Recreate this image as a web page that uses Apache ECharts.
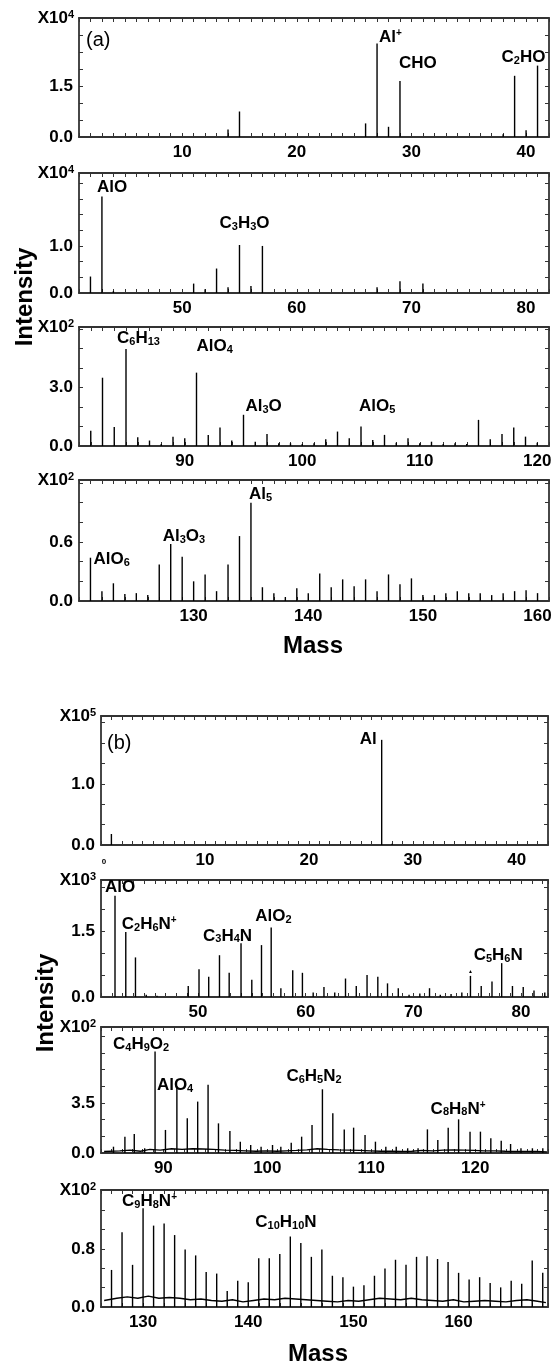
<!DOCTYPE html>
<html>
<head>
<meta charset="utf-8">
<script src="https://cdn.jsdelivr.net/npm/echarts@6/dist/echarts.min.js"></script>
<style>
  html, body { margin: 0; padding: 0; background: #fff; }
  #chart { width: 558px; height: 1366px; }
</style>
</head>
<body>
<div id="chart"></div>
<script>
// ---------- data ----------
// (a) spectrum
const massA1 = [14, 15, 26, 27, 28, 29, 38, 39, 40, 41];
const intA1 = [0.22, 0.75, 0.4, 2.75, 0.3, 1.65, 0.08, 1.8, 0.2, 2.1];      // x10^4
const annA1 = [[27, 'Al{sup|+}'], [29, 'CHO'], [41, 'C{sub|2}HO']];

const massA2 = [42, 43, 44, 51, 52, 53, 54, 55, 56, 57, 67, 69, 71];
const intA2 = [0.35, 2.05, 0.04, 0.2, 0.08, 0.52, 0.12, 1.02, 0.15, 1.0, 0.12, 0.25, 0.2]; // x10^4
const annA2 = [[43, 'AlO'], [55, 'C{sub|3}H{sub|3}O']];

const massA3 = [82, 83, 84, 85, 86, 87, 88, 89, 90, 91, 92, 93, 94, 95, 96, 97, 98, 99, 100, 101,
  102, 103, 104, 105, 106, 107, 108, 109, 110, 111, 112, 113, 114, 115, 116, 117, 118, 119, 120];
const intA3 = [0.78, 3.5, 0.97, 4.97, 0.45, 0.28, 0.1, 0.48, 0.4, 3.76, 0.57, 0.95, 0.28, 1.6, 0.22, 0.62, 0.14, 0.14, 0.1, 0.14,
  0.34, 0.74, 0.4, 1.0, 0.31, 0.57, 0.17, 0.4, 0.14, 0.22, 0.1, 0.14, 0.1, 1.34, 0.34, 0.62, 0.95, 0.48, 0.17]; // x10^2
const annA3 = [[85, 'C{sub|6}H{sub|13}'], [91, 'AlO{sub|4}'], [95, 'Al{sub|3}O'], [105, 'AlO{sub|5}']];

const massA4 = [121, 122, 123, 124, 125, 126, 127, 128, 129, 130, 131, 132, 133, 134, 135, 136, 137, 138, 139, 140,
  141, 142, 143, 144, 145, 146, 147, 148, 149, 150, 151, 152, 153, 154, 155, 156, 157, 158, 159, 160];
const intA4 = [0.44, 0.1, 0.18, 0.07, 0.08, 0.06, 0.37, 0.58, 0.45, 0.2, 0.27, 0.1, 0.37, 0.66, 1.0, 0.14, 0.08, 0.04, 0.13, 0.08,
  0.28, 0.14, 0.22, 0.15, 0.22, 0.1, 0.27, 0.17, 0.23, 0.06, 0.06, 0.08, 0.1, 0.08, 0.08, 0.06, 0.08, 0.1, 0.11, 0.08]; // x10^2
const annA4 = [[121, 'AlO{sub|6}'], [128, 'Al{sub|3}O{sub|3}'], [135, 'Al{sub|5}']];

// (b) spectrum
const massB1 = [1, 27, 28];
const intB1 = [0.18, 1.72, 0.02]; // x10^5
const annB1 = [[27, 'Al']];

const massB2 = [42.3, 43.3, 44.2, 45.2, 46.2, 49.1, 50.1, 51.0, 52.0, 52.9, 54.0, 55.0, 55.9, 56.8, 57.7, 58.8, 59.7, 60.7,
  61.7, 62.7, 63.7, 64.7, 65.7, 66.7, 67.6, 68.6, 69.6, 70.6, 71.5, 72.5, 73.5, 74.5, 75.3, 76.3, 77.3, 78.2, 79.2, 80.2, 81.2, 82.2];
const intB2 = [2.3, 1.48, 0.9, 0.05, 0.03, 0.25, 0.63, 0.46, 0.95, 0.55, 1.22, 0.39, 1.18, 1.58, 0.2, 0.61, 0.55, 0.1,
  0.23, 0.1, 0.42, 0.25, 0.5, 0.46, 0.31, 0.2, 0.05, 0.08, 0.2, 0.05, 0.07, 0.1, 0.48, 0.25, 0.35, 0.77, 0.25, 0.23, 0.15, 0.1]; // x10^3
const annB2 = [[42.3, 'AlO'], [43.3, 'C{sub|2}H{sub|6}N{sup|+}'], [54.0, 'C{sub|3}H{sub|4}N'], [56.8, 'AlO{sub|2}'],
  [78.2, 'C{sub|5}H{sub|6}N'], [75.3, '{tri|▲}']];

const massB3 = [85.2, 86.3, 87.2, 88.2, 89.2, 90.2, 91.3, 92.3, 93.3, 94.3, 95.3, 96.4, 97.4, 98.4, 99.4, 100.5, 101.3, 102.3,
  103.3, 104.3, 105.3, 106.3, 107.4, 108.3, 109.4, 110.4, 111.4, 112.4, 113.5, 114.5, 115.4, 116.4, 117.4, 118.4, 119.5,
  120.5, 121.5, 122.5, 123.4, 124.4, 125.5, 126.5];
const intB3 = [0.44, 1.14, 1.33, 0.33, 7.09, 1.61, 4.64, 2.42, 3.59, 4.76, 2.07, 1.54, 0.79, 0.56, 0.44, 0.56, 0.44, 0.72,
  1.14, 1.96, 4.45, 2.77, 1.65, 1.77, 1.26, 0.79, 0.44, 0.44, 0.33, 0.33, 1.65, 0.9, 1.77, 2.35, 1.49,
  1.49, 1.03, 0.86, 0.63, 0.33, 0.33, 0.33]; // x10^2
const baseMassB3 = [84.3, 85.8, 86.8, 87.8, 88.7, 89.7, 90.8, 91.8, 92.8, 93.8, 94.8, 95.9, 96.9, 97.9, 98.9, 99.9, 100.9,
  101.8, 102.8, 103.8, 104.8, 105.8, 106.9, 107.9, 108.9, 109.9, 110.9, 111.9, 112.9, 113.9, 114.9, 115.9, 116.9, 117.9,
  118.9, 119.9, 120.9, 121.9, 122.9, 123.9, 124.9, 125.9, 126.9];
const baseIntB3 = [0.1, 0.15, 0.2, 0.12, 0.25, 0.2, 0.3, 0.25, 0.3, 0.28, 0.25, 0.2, 0.18, 0.15, 0.12, 0.15, 0.12, 0.15, 0.18, 0.22,
  0.3, 0.25, 0.22, 0.2, 0.18, 0.15, 0.12, 0.12, 0.1, 0.12, 0.18, 0.15, 0.2, 0.22, 0.2, 0.18, 0.15, 0.15, 0.12, 0.1, 0.1, 0.1, 0.08];
const annB3 = [[89.2, 'C{sub|4}H{sub|9}O{sub|2}'], [91.3, 'AlO{sub|4}'], [105.3, 'C{sub|6}H{sub|5}N{sub|2}'],
  [118.4, 'C{sub|8}H{sub|8}N{sup|+}']];

const massB4 = [127, 128, 129, 130, 131, 132, 133, 134, 135, 136, 137, 138, 139, 140, 141, 142, 143, 144, 145, 146, 147,
  148, 149, 150, 151, 152, 153, 154, 155, 156, 157, 158, 159, 160, 161, 162, 163, 164, 165, 166, 167, 168];
const intB4 = [0.51, 1.03, 0.58, 1.36, 1.12, 1.15, 0.99, 0.79, 0.71, 0.48, 0.46, 0.22, 0.36, 0.34, 0.67, 0.67, 0.73, 0.97, 0.88, 0.69, 0.79,
  0.43, 0.41, 0.28, 0.3, 0.43, 0.53, 0.65, 0.58, 0.69, 0.7, 0.66, 0.62, 0.47, 0.38, 0.41, 0.33, 0.27, 0.36, 0.32, 0.64, 0.47]; // x10^2
const baseMassB4 = [126.3, 127.5, 128.5, 129.5, 130.5, 131.5, 132.5, 133.5, 134.5, 135.5, 136.5, 137.5, 138.5, 139.5, 140.5,
  141.5, 142.5, 143.5, 144.5, 145.5, 146.5, 147.5, 148.5, 149.5, 150.5, 151.5, 152.5, 153.5, 154.5, 155.5, 156.5, 157.5,
  158.5, 159.5, 160.5, 161.5, 162.5, 163.5, 164.5, 165.5, 166.5, 167.5, 168.3];
const baseIntB4 = [0.09, 0.12, 0.14, 0.12, 0.15, 0.12, 0.13, 0.12, 0.1, 0.11, 0.09, 0.08, 0.1, 0.07, 0.09, 0.11, 0.1, 0.12, 0.11, 0.1,
  0.09, 0.08, 0.07, 0.09, 0.08, 0.1, 0.12, 0.11, 0.1, 0.12, 0.1, 0.09, 0.08, 0.1, 0.07, 0.08, 0.09, 0.08, 0.07, 0.09, 0.1, 0.08, 0.06];
const annB4 = [[130, 'C{sub|9}H{sub|8}N{sup|+}'], [144, 'C{sub|10}H{sub|10}N']];

// axis ranges: [xMin, xMax, yMax, yTick, yLabel, exponent]
const axesA = [[1, 42, 3.5, 0.5, 1.5, '4'], [41, 82, 2.55, 1 / 3, 1.0, '4'], [81, 121, 6.1, 1, 3.0, '2'], [120, 161, 1.23, 0.2, 0.6, '2']];
const axesB = [[0, 43, 2.11, 1 / 3, 1.0, '5'], [41, 82.5, 2.66, 0.5, 1.5, '3'], [84, 127, 8.8, 3.5 / 3, 3.5, '2'], [126, 168.5, 1.61, 0.8 / 3, 0.8, '2']];

// ---------- layout / style ----------
const FONT = '"Liberation Sans", Arial, Helvetica, sans-serif';
const INK = '#000';
const FRAME = '#333';
// left, top, width, height
const boxes = [[79, 18, 470, 119], [79, 173, 470, 120], [79, 327, 470, 119], [79, 480, 470, 121],
  [101, 716, 447, 129], [101, 880, 447, 117], [101, 1027, 447, 126], [101, 1190, 447, 117]];
// label placement per annotation: [align, dx, dy]
const places = [
  [['left', 2, -6], ['left', -1, -17], ['left', -36, -8]],
  [['left', -5, -9], ['left', -20, -21]],
  [['left', -9, -10], ['left', 0, -26], ['left', 2, -8], ['left', -2, -20]],
  [['left', 3, 2], ['left', -8, -7], ['left', -2, -8]],
  [['right', -5, 0]],
  [['left', -10, -8], ['left', -4, -7], ['left', -38, -7], ['left', -16, -11], ['left', -28, -7], ['center', 0, -4]],
  [['left', -42, -7], ['left', -20, -1], ['left', -36, -12], ['left', -28, -10]],
  [['left', -21, -6], ['left', -35, -14]]
];

const panels = [
  { mass: massA1, inten: intA1, ann: annA1, ax: axesA[0] },
  { mass: massA2, inten: intA2, ann: annA2, ax: axesA[1] },
  { mass: massA3, inten: intA3, ann: annA3, ax: axesA[2] },
  { mass: massA4, inten: intA4, ann: annA4, ax: axesA[3] },
  { mass: massB1, inten: intB1, ann: annB1, ax: axesB[0], zero: true },
  { mass: massB2, inten: intB2, ann: annB2, ax: axesB[1] },
  { mass: massB3, inten: intB3, ann: annB3, ax: axesB[2], bm: baseMassB3, bi: baseIntB3 },
  { mass: massB4, inten: intB4, ann: annB4, ax: axesB[3], bm: baseMassB4, bi: baseIntB4 }
];

const lineStyle = { color: FRAME, width: 1.8 };
const tickStyle = { show: true, inside: true, length: 4, lineStyle: { color: FRAME, width: 1 } };
const labelFont = { fontSize: 17, fontWeight: 'bold', color: INK, fontFamily: FONT };
const richLab = {
  sub: { fontSize: 11, fontWeight: 'bold', color: INK, fontFamily: FONT, verticalAlign: 'bottom', padding: [7, 0, 0, 0] },
  sup: { fontSize: 10, fontWeight: 'bold', color: INK, fontFamily: FONT, verticalAlign: 'top', padding: [0, 0, 8, 0] },
  tri: { fontSize: 5, color: INK }
};

const grid = [], xAxis = [], yAxis = [], series = [];
panels.forEach((p, i) => {
  const [l, t, w, h] = boxes[i];
  const [xMin, xMax, yMax, yTick, yLab, ex] = p.ax;
  grid.push({ left: l, top: t, width: w, height: h, outerBoundsMode: 'none', containLabel: false });
  const near = (a, b) => Math.abs(a - b) < 1e-6;
  xAxis.push({
    type: 'value', gridIndex: i, position: 'bottom', min: xMin, max: xMax, interval: 1,
    axisLine: { show: true, onZero: false, lineStyle }, axisTick: tickStyle, splitLine: { show: false },
    axisLabel: Object.assign({}, labelFont, {
      margin: 7, showMinLabel: true, showMaxLabel: true,
      formatter: v => {
        if (p.zero && near(v, 0)) return '{s|0}';
        if (near(v, xMin)) return '';
        return near(v % 10, 0) ? String(Math.round(v)) : '';
      },
      rich: { s: { fontSize: 8, color: INK, fontFamily: FONT, padding: [6, 0, 0, 6] } }
    })
  });
  xAxis.push({
    type: 'value', gridIndex: i, position: 'top', min: xMin, max: xMax, interval: 1,
    axisLine: { show: true, onZero: false, lineStyle }, axisTick: tickStyle, splitLine: { show: false },
    axisLabel: { show: false }
  });
  yAxis.push({
    type: 'value', gridIndex: i, position: 'left', min: 0, max: yMax, interval: yTick,
    axisLine: { show: true, onZero: false, lineStyle }, axisTick: tickStyle, splitLine: { show: false },
    axisLabel: Object.assign({}, labelFont, {
      margin: 6, showMaxLabel: false,
      formatter: v => near(v, 0) ? '0.0' : (near(v, yLab) ? yLab.toFixed(1) : '')
    }),
    name: 'X10{e|' + ex + '}', nameLocation: 'end', nameGap: 0,
    nameTextStyle: Object.assign({}, labelFont, {
      align: 'right', verticalAlign: 'middle', padding: [0, 5, 0, 0],
      rich: { e: { fontSize: 11, fontWeight: 'bold', color: INK, fontFamily: FONT, verticalAlign: 'top', padding: [0, 0, 7, 0] } }
    })
  });
  yAxis.push({
    type: 'value', gridIndex: i, position: 'right', min: 0, max: yMax, interval: yTick,
    axisLine: { show: true, onZero: false, lineStyle }, axisTick: tickStyle, splitLine: { show: false },
    axisLabel: { show: false }
  });

  series.push({
    type: 'bar', xAxisIndex: 2 * i, yAxisIndex: 2 * i, barWidth: 1.4, silent: true,
    itemStyle: { color: INK }, data: p.mass.map((m, k) => [m, p.inten[k]])
  });
  if (p.bm) {
    series.push({
      type: 'line', xAxisIndex: 2 * i, yAxisIndex: 2 * i, symbol: 'none', silent: true,
      lineStyle: { color: INK, width: 1.4 }, data: p.bm.map((m, k) => [m, p.bi[k]])
    });
  }
  series.push({
    type: 'scatter', xAxisIndex: 2 * i, yAxisIndex: 2 * i, symbolSize: 1, silent: true,
    itemStyle: { color: 'rgba(255,255,255,0)', opacity: 1 },
    data: p.ann.map((a, k) => {
      const pl = places[i][k];
      return {
        value: [a[0], p.inten[p.mass.indexOf(a[0])]],
        label: {
          show: true, position: 'top', distance: 0, formatter: a[1], align: pl[0], verticalAlign: 'middle',
          offset: [pl[1], pl[2]], fontSize: 17, fontWeight: 'bold', color: INK, fontFamily: FONT,
          textBorderWidth: 0, rich: richLab
        }
      };
    })
  });
});

const graphic = [
  { type: 'text', x: 86, y: 40, style: { text: '(a)', fontSize: 20, fontFamily: FONT, fill: INK, verticalAlign: 'middle' } },
  { type: 'text', x: 107, y: 743, style: { text: '(b)', fontSize: 20, fontFamily: FONT, fill: INK, verticalAlign: 'middle' } },
  { type: 'text', x: 25, y: 297, rotation: Math.PI / 2,
    style: { text: 'Intensity', fontSize: 24, fontWeight: 'bold', fontFamily: FONT, fill: INK, align: 'center', verticalAlign: 'middle' } },
  { type: 'text', x: 46, y: 1003, rotation: Math.PI / 2,
    style: { text: 'Intensity', fontSize: 24, fontWeight: 'bold', fontFamily: FONT, fill: INK, align: 'center', verticalAlign: 'middle' } },
  { type: 'text', x: 313, y: 646, style: { text: 'Mass', fontSize: 24, fontWeight: 'bold', fontFamily: FONT, fill: INK, align: 'center', verticalAlign: 'middle' } },
  { type: 'text', x: 318, y: 1354, style: { text: 'Mass', fontSize: 24, fontWeight: 'bold', fontFamily: FONT, fill: INK, align: 'center', verticalAlign: 'middle' } }
];

const chart = echarts.init(document.getElementById('chart'), null, { renderer: 'canvas' });
chart.setOption({
  animation: false,
  backgroundColor: '#fff',
  grid, xAxis, yAxis, series, graphic
});
</script>
</body>
</html>
